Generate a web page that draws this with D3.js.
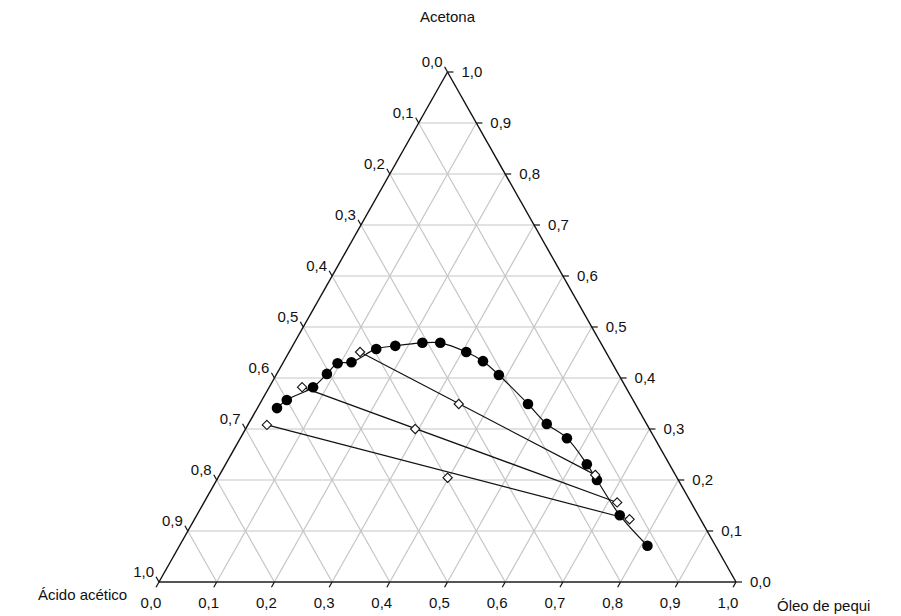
<!DOCTYPE html>
<html>
<head>
<meta charset="utf-8">
<script src="https://cdn.jsdelivr.net/npm/d3@7"></script>
<style>
  body { margin: 0; background: #fff; }
  text { font-family: "Liberation Sans", Arial, sans-serif; fill: #111; }
</style>
</head>
<body>
<div id="chart"></div>
<script>
// compositions as [oil, acetone] mass fractions (acid = 1 - oil - acetone)
const binodalOil     = [0.034, 0.043, 0.076, 0.087, 0.095, 0.118, 0.148, 0.178, 0.222, 0.253,
                        0.307, 0.345, 0.386, 0.465, 0.517, 0.566, 0.626, 0.659, 0.733, 0.811];
const binodalAcetone = [0.341, 0.357, 0.382, 0.408, 0.429, 0.431, 0.457, 0.463, 0.469, 0.469,
                        0.451, 0.433, 0.406, 0.349, 0.310, 0.282, 0.231, 0.200, 0.131, 0.071];

const tieLeftOil      = [0.123, 0.057, 0.033];
const tieLeftAcetone  = [0.451, 0.382, 0.308];
const tieRightOil     = [0.651, 0.716, 0.754];
const tieRightAcetone = [0.210, 0.156, 0.123];
const feedOil         = [0.345, 0.294, 0.398];
const feedAcetone     = [0.349, 0.300, 0.2045];

const ticks = d3.range(0, 11).map(i => i / 10);
const tickLabel = v => d3.format(".1f")(v).replace(".", ",");

const width = 901, height = 616;

const svg = d3.select("#chart").append("svg")
  .attr("width", width)
  .attr("height", height);

// horizontal fraction and height fraction -> pixels
const x = d3.scaleLinear().domain([0, 1]).range([159, 736]);
const y = d3.scaleLinear().domain([0, 1]).range([582, 72]);
const pt = (o, a) => [x(o + a / 2), y(a)];

// grid
const grid = svg.append("g")
  .attr("stroke", "#c6c6c6")
  .attr("stroke-width", 1.2);
ticks.slice(1, -1).forEach(v => {
  // acetone constant
  let p = pt(0, v), q = pt(1 - v, v);
  grid.append("line").attr("x1", p[0]).attr("y1", p[1]).attr("x2", q[0]).attr("y2", q[1]);
  // oil constant
  p = pt(v, 0); q = pt(v, 1 - v);
  grid.append("line").attr("x1", p[0]).attr("y1", p[1]).attr("x2", q[0]).attr("y2", q[1]);
  // acid constant
  p = pt(1 - v, 0); q = pt(0, 1 - v);
  grid.append("line").attr("x1", p[0]).attr("y1", p[1]).attr("x2", q[0]).attr("y2", q[1]);
});

// triangle edges
const A = pt(0, 0), B = pt(1, 0), C = pt(0, 1);
svg.append("line").attr("x1", A[0]).attr("y1", A[1]).attr("x2", B[0]).attr("y2", B[1])
  .attr("stroke", "#555").attr("stroke-width", 2);
svg.append("line").attr("x1", A[0]).attr("y1", A[1]).attr("x2", C[0]).attr("y2", C[1])
  .attr("stroke", "#111").attr("stroke-width", 1.4);
svg.append("line").attr("x1", B[0]).attr("y1", B[1]).attr("x2", C[0]).attr("y2", C[1])
  .attr("stroke", "#111").attr("stroke-width", 1.4);

// edge direction (unit) for slanted ticks
const ex = (C[0] - B[0]), ey = (C[1] - B[1]), el = Math.hypot(ex, ey);
const ux = ex / el, uy = ey / el;   // up-left
const tl = 6;

const axes = svg.append("g").attr("stroke", "#111").attr("stroke-width", 1.2);
const labels = svg.append("g").style("font-size", "15px");

ticks.forEach(v => {
  // right axis: acetone
  let p = pt(1 - v, v);
  axes.append("line").attr("x1", p[0]).attr("y1", p[1]).attr("x2", p[0] + tl).attr("y2", p[1]);
  labels.append("text").attr("x", p[0] + 14).attr("y", p[1] + 5).text(tickLabel(v));

  // left axis: acid
  p = pt(0, 1 - v);
  axes.append("line").attr("x1", p[0]).attr("y1", p[1])
    .attr("x2", p[0] + ux * tl).attr("y2", p[1] + uy * tl);
  labels.append("text").attr("x", p[0] - 5).attr("y", p[1] - 5)
    .attr("text-anchor", "end").text(tickLabel(v));

  // bottom axis: oil
  p = pt(v, 0);
  axes.append("line").attr("x1", p[0]).attr("y1", p[1])
    .attr("x2", p[0] + ux * tl).attr("y2", p[1] - uy * tl);
  labels.append("text").attr("x", p[0] - 8).attr("y", p[1] + 26)
    .attr("text-anchor", "middle").text(tickLabel(v));
});

// axis titles
svg.append("text").attr("x", x(0.5)).attr("y", 22).attr("text-anchor", "middle")
  .style("font-size", "15px").text("Acetona");
svg.append("text").attr("x", 38).attr("y", 600)
  .style("font-size", "15px").text("Ácido acético");
svg.append("text").attr("x", 777).attr("y", 611)
  .style("font-size", "15px").text("Óleo de pequi");

// tie lines
const tie = svg.append("g").attr("stroke", "#111").attr("stroke-width", 1.2);
tieLeftOil.forEach((o, i) => {
  const p = pt(o, tieLeftAcetone[i]), q = pt(tieRightOil[i], tieRightAcetone[i]);
  tie.append("line").attr("x1", p[0]).attr("y1", p[1]).attr("x2", q[0]).attr("y2", q[1]);
});

// binodal curve
const binodal = binodalOil.map((o, i) => pt(o, binodalAcetone[i]));
svg.append("path")
  .attr("d", d3.line().curve(d3.curveCatmullRom)(binodal))
  .attr("fill", "none").attr("stroke", "#111").attr("stroke-width", 1.2);

svg.append("g").selectAll("circle")
  .data(binodal).enter().append("circle")
  .attr("cx", d => d[0]).attr("cy", d => d[1]).attr("r", 5.3)
  .attr("fill", "#000");

// diamonds
const diamonds = [
  ...tieLeftOil.map((o, i) => pt(o, tieLeftAcetone[i])),
  ...tieRightOil.map((o, i) => pt(o, tieRightAcetone[i])),
  ...feedOil.map((o, i) => pt(o, feedAcetone[i]))
];
const sym = d3.symbol().type(d3.symbolDiamond2).size(55);
svg.append("g").selectAll("path")
  .data(diamonds).enter().append("path")
  .attr("transform", d => `translate(${d[0]},${d[1]})`)
  .attr("d", sym)
  .attr("fill", "#fff").attr("stroke", "#111").attr("stroke-width", 1.1);
</script>
</body>
</html>
